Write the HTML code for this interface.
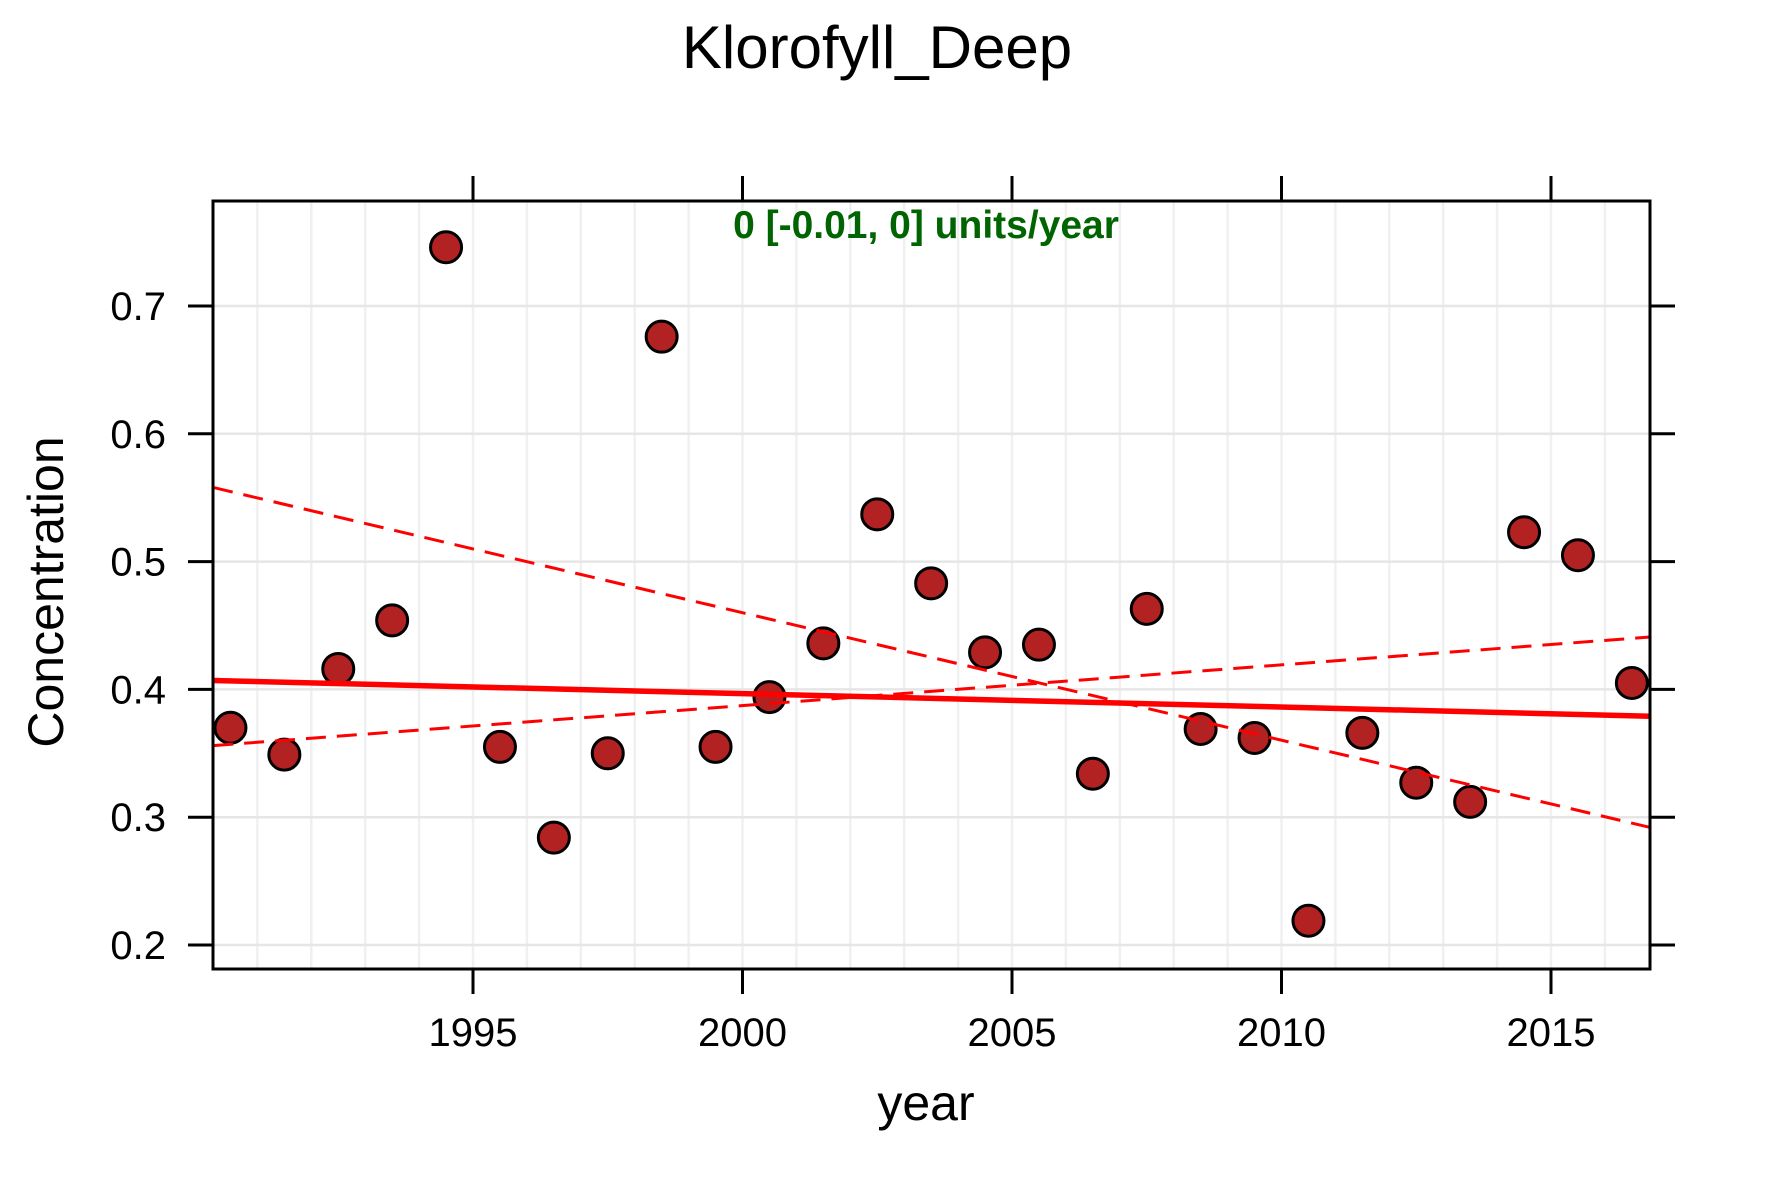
<!DOCTYPE html>
<html><head><meta charset="utf-8"><style>html,body{margin:0;padding:0;background:#fff}svg{display:block}</style></head>
<body>
<svg id="chart" width="1771" height="1181" viewBox="0 0 1771 1181" xmlns="http://www.w3.org/2000/svg" font-family="Liberation Sans, Arial, sans-serif">
<rect width="1771" height="1181" fill="#fff"/>
<g id="grid"></g>
<g id="points"></g>
<g id="lines"></g>
<rect x="213" y="201" width="1437" height="768" fill="none" stroke="#000" stroke-width="3"/>
<g id="ticks"></g>
<text x="877" y="68" font-size="60" text-anchor="middle">Klorofyll_Deep</text>
<text x="926" y="238" font-size="39" font-weight="bold" fill="#006400" text-anchor="middle">0 [-0.01, 0] units/year</text>
<text x="926" y="1120" font-size="50" text-anchor="middle">year</text>
<text transform="translate(63,592) rotate(-90)" font-size="50" text-anchor="middle">Concentration</text>
</svg>
<script>
const years = [1990,1991,1992,1993,1994,1995,1996,1997,1998,1999,2000,2001,2002,2003,2004,2005,2006,2007,2008,2009,2010,2011,2012,2013,2014,2015,2016];
const values = [0.370,0.349,0.416,0.454,0.746,0.355,0.284,0.350,0.676,0.355,0.394,0.436,0.537,0.483,0.429,0.435,0.334,0.463,0.369,0.362,0.219,0.366,0.327,0.312,0.523,0.505,0.405];
const xTicks = [1995,2000,2005,2010,2015];
const yTicks = [0.2,0.3,0.4,0.5,0.6,0.7];
const yTickLabels = ["0.2","0.3","0.4","0.5","0.6","0.7"];
const trendStart = [1990.18, 0.407];
const trendEnd = [2016.84, 0.379];
const upperStart = [1990.18, 0.558];
const upperEnd = [2016.84, 0.292];
const lowerStart = [1990.18, 0.356];
const lowerEnd = [2016.84, 0.441];

const NS='http://www.w3.org/2000/svg';
const L=213,R=1650,T=201,B=969;
function xs(y){return 473+(y-1995)*53.9;}
function ys(v){return 306+(0.7-v)*1278;}
function mk(tag,attrs,parent){const e=document.createElementNS(NS,tag);for(const k in attrs)e.setAttribute(k,attrs[k]);parent.appendChild(e);return e;}
const grid=document.getElementById('grid'),pts=document.getElementById('points'),lines=document.getElementById('lines'),ticks=document.getElementById('ticks');
for(let y=1991;y<=2016;y++){const e=mk('line',{x1:xs(y),x2:xs(y),y1:T,y2:B,stroke:'#f0f0f0','stroke-width':2.5},grid);

}
yTicks.forEach((v,i)=>{const e=mk('line',{x1:L,x2:R,y1:ys(v),y2:ys(v),stroke:'#e6e6e6','stroke-width':2.5},grid);


const t1=mk('line',{x1:L-25,x2:L,y1:ys(v),y2:ys(v),stroke:'#000','stroke-width':3},ticks);


const t2=mk('line',{x1:R,x2:R+25,y1:ys(v),y2:ys(v),stroke:'#000','stroke-width':3},ticks);


const tx=mk('text',{x:166,y:ys(v)+14,'font-size':40,'text-anchor':'end'},ticks);tx.textContent=yTickLabels[i];

});
xTicks.forEach(y=>{const t1=mk('line',{x1:xs(y),x2:xs(y),y1:T-25,y2:T,stroke:'#000','stroke-width':3},ticks);


const t2=mk('line',{x1:xs(y),x2:xs(y),y1:B,y2:B+25,stroke:'#000','stroke-width':3},ticks);


const tx=mk('text',{x:xs(y),y:1046,'font-size':40,'text-anchor':'middle'},ticks);tx.textContent=String(y);

});
years.forEach((y,i)=>{const c=mk('circle',{cx:xs(y+0.5),cy:ys(values[i]),r:15.5,fill:'#B22222',stroke:'#000','stroke-width':3},pts);

});
function seg(a,b,w,dash,name){const e=mk('line',{x1:xs(a[0]),y1:ys(a[1]),x2:xs(b[0]),y2:ys(b[1]),stroke:'#ff0000','stroke-width':w},lines);if(dash)e.setAttribute('stroke-dasharray',dash);

}
seg(upperStart,upperEnd,3,'20 11','confidence-line-upper');
seg(lowerStart,lowerEnd,3,'20 11','confidence-line-lower');
seg(trendStart,trendEnd,5.5,null,'trend-line');
</script>
</body></html>
